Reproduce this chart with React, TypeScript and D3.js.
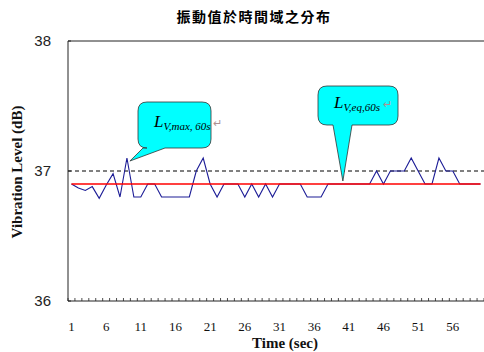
import React from "react";
import * as d3 from "d3";

const TITLE = "振動值於時間域之分布";
const X_TITLE = "Time (sec)";
const Y_TITLE = "Vibration Level (dB)";
const seconds = d3.range(1, 61);
const levels = [
  36.9, 36.87, 36.85, 36.88, 36.79, 36.89, 36.98, 36.8, 37.1, 36.8,
  36.8, 36.9, 36.9, 36.8, 36.8, 36.8, 36.8, 36.8, 37.0, 37.1,
  36.9, 36.8, 36.9, 36.9, 36.9, 36.8, 36.9, 36.8, 36.9, 36.8,
  36.9, 36.9, 36.9, 36.9, 36.8, 36.8, 36.8, 36.9, 36.9, 36.9,
  36.9, 36.9, 36.9, 36.9, 37.0, 36.9, 37.0, 37.0, 37.0, 37.1,
  37.0, 36.9, 36.9, 37.1, 37.0, 37.0, 36.9, 36.9, 36.9, 36.9,
];
const LEQ = 36.9;
const LMAX = 37.0;
const yTicks = [36, 37, 38];
const xLabelEvery = 5;

const W = 484;
const H = 352;
const left = 68;
const right = 484;
const top = 41;
const bottom = 301;

function calloutPath(x0: number, y0: number, x1: number, y1: number, r: number, b1: number, b2: number, tx: number, ty: number) {
  return `M${x0 + r},${y0} H${x1 - r} Q${x1},${y0} ${x1},${y0 + r} V${y1 - r} Q${x1},${y1} ${x1 - r},${y1} H${b2} L${tx},${ty} L${b1},${y1} H${x0 + r} Q${x0},${y1} ${x0},${y1 - r} V${y0 + r} Q${x0},${y0} ${x0 + r},${y0} Z`;
}

export default function App() {
  const x = d3.scaleBand<number>().domain(seconds).range([left, right]).padding(0);
  const bw = x.bandwidth();
  const cx = (s: number) => (x(s) as number) + bw / 2;
  const y = d3.scaleLinear().domain([36, 38]).range([bottom, top]);

  const line = d3
    .line<number>()
    .x((_, i) => cx(seconds[i]))
    .y((d) => y(d));

  const tickXs = d3.range(0, seconds.length + 1).map((i) => left + i * bw);

  return (
    <svg width={W} height={H} style={{ position: "absolute", left: 0, top: 0, background: "#fff" }}>
      <rect width={W} height={H} fill="#fff" />
      <text x={254} y={22} textAnchor="middle" fontFamily="'Noto Sans CJK TC'" fontWeight="bold" fontSize={14} letterSpacing={1.5} fill="#000">
        {TITLE}
      </text>

      {/* reference lines and series */}
      <line x1={left} x2={right} y1={y(LMAX)} y2={y(LMAX)} stroke="#000" strokeWidth={1} strokeDasharray="4,3" />
      <path d={line(levels) || ""} fill="none" stroke="#1c1c96" strokeWidth={1.1} />
      <line x1={cx(seconds[0])} x2={cx(seconds[seconds.length - 1])} y1={y(LEQ)} y2={y(LEQ)} stroke="#ff0000" strokeWidth={1.3} />

      {/* axes */}
      <line x1={left} x2={right} y1={top} y2={top} stroke="#222" strokeWidth={1} />
      <line x1={left} x2={left} y1={top} y2={bottom} stroke="#222" strokeWidth={1} />
      <line x1={left} x2={right} y1={bottom} y2={bottom} stroke="#222" strokeWidth={1} />
      {tickXs.map((tx, i) => (
        <line key={i} x1={tx} x2={tx} y1={bottom} y2={bottom - 3} stroke="#222" strokeWidth={0.8} />
      ))}
      {yTicks.map((t) => (
        <g key={t}>
          <line x1={left} x2={left + 3} y1={y(t)} y2={y(t)} stroke="#222" />
          <text x={51} y={y(t) + 5} textAnchor="end" fontFamily="'Liberation Sans'" fontSize={15} fill="#222">
            {t}
          </text>
        </g>
      ))}
      {seconds
        .filter((s) => (s - 1) % xLabelEvery === 0)
        .map((s) => (
          <text key={s} x={cx(s)} y={331} textAnchor="middle" fontFamily="'Liberation Serif'" fontSize={13} fill="#111">
            {s}
          </text>
        ))}
      <text x={285} y={348} textAnchor="middle" fontFamily="'Liberation Serif'" fontWeight="bold" fontSize={15} fill="#111">
        {X_TITLE}
      </text>
      <text transform={`translate(22,172) rotate(-90)`} textAnchor="middle" fontFamily="'Liberation Serif'" fontWeight="bold" fontSize={15} fill="#111">
        {Y_TITLE}
      </text>

      {/* callouts */}
      <path d={calloutPath(138, 102, 211, 148, 9, 143, 165, cx(9) + 3, y(37.1) + 3)} fill="#00ffff" stroke="#333" strokeWidth={0.8} />
      <text x={154} y={127} fontFamily="'Liberation Serif'" fontStyle="italic" fill="#000">
        <tspan fontSize={17}>L</tspan>
        <tspan fontSize={11} dy={3}>V,max, 60s</tspan>
        <tspan fontSize={11} dy={-3} fill="#b09090" fontStyle="normal">{" ↵"}</tspan>
      </text>
      <path d={calloutPath(318, 86, 398, 125, 9, 333, 352, cx(40) + 1, y(36.9) - 3)} fill="#00ffff" stroke="#333" strokeWidth={0.8} />
      <text x={334} y={108} fontFamily="'Liberation Serif'" fontStyle="italic" fill="#000">
        <tspan fontSize={17}>L</tspan>
        <tspan fontSize={11} dy={3}>V,eq,60s</tspan>
        <tspan fontSize={11} dy={-3} fill="#b09090" fontStyle="normal">{" ↵"}</tspan>
      </text>
    </svg>
  );
}
